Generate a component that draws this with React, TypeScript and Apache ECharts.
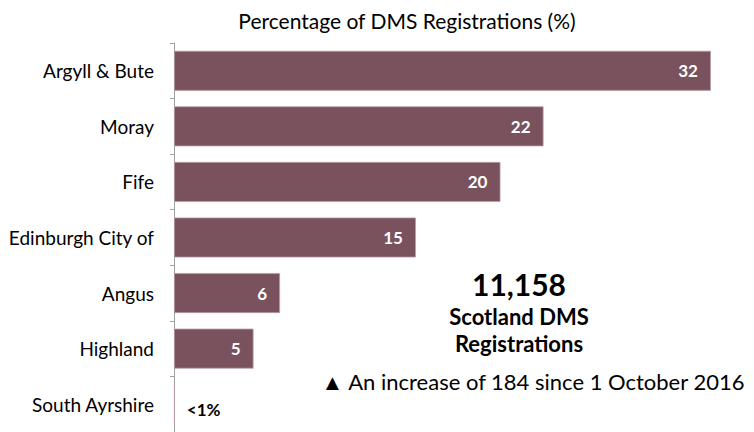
import React, { useEffect, useRef } from "react";
import * as echarts from "echarts";

const categories = [
  "Argyll & Bute",
  "Moray",
  "Fife",
  "Edinburgh City of",
  "Angus",
  "Highland",
  "South Ayrshire",
];
const percentages = [32.4, 22.3, 19.7, 14.6, 6.4, 4.8, 0.05];
const titleText = "Percentage of DMS Registrations (%)";
const totalRegistrations = 11158;
const totalLabelLines = ["Scotland DMS", "Registrations"];
const increase = 184;
const sinceDate = "1 October 2016";

const FONT = "Lato, 'Open Sans', sans-serif";
const BAR = "#7a525e";

export default function App() {
  const ref = useRef<HTMLDivElement>(null);
  useEffect(() => {
    if (!ref.current) return;
    const chart = echarts.init(ref.current, null, { renderer: "svg" });
    const data = percentages.map((v) =>
      v < 1
        ? {
            value: v,
            label: {
              position: "right",
              color: "#000",
              distance: 12,
              offset: [0, 5],
              formatter: "<1%",
            },
          }
        : { value: v }
    );
    const lineY = [316, 343];
    chart.setOption({
      animation: false,
      backgroundColor: "#fff",
      textStyle: { fontFamily: FONT },
      title: {
        text: titleText,
        left: 402,
        top: 5,
        textAlign: "center",
        textStyle: { fontFamily: FONT, fontSize: 21, fontWeight: "normal", color: "#000" },
      },
      grid: { left: 174, top: 43, right: 0, height: 392, containLabel: false },
      xAxis: { type: "value", min: 0, max: 35, show: false },
      yAxis: {
        type: "category",
        data: categories,
        inverse: true,
        axisLine: { show: true, lineStyle: { color: "#a0a0a0", width: 1 } },
        axisTick: { show: true, length: 4, lineStyle: { color: "#a0a0a0" } },
        axisLabel: { fontFamily: FONT, fontSize: 19, color: "#000", margin: 20 },
        splitLine: { show: false },
      },
      series: [
        {
          type: "bar",
          data,
          barWidth: 40,
          itemStyle: { color: BAR, borderColor: "#b9a0a8", borderWidth: 0.8 },
          label: {
            show: true,
            position: "insideRight",
            distance: 13,
            color: "#fff",
            fontFamily: FONT,
            fontSize: 17,
            fontWeight: "bold",
            formatter: (p: any) => String(Math.round(p.value)),
          },
        },
      ],
      graphic: [
        {
          type: "text",
          x: 519,
          y: 284,
          style: {
            text: totalRegistrations.toLocaleString("en-GB"),
            fontFamily: FONT,
            fontSize: 30,
            fontWeight: "bold",
            fill: "#000",
            textAlign: "center",
            textVerticalAlign: "middle",
          },
        },
        ...totalLabelLines.map((t, i) => ({
          type: "text",
          x: 519,
          y: lineY[i],
          style: {
            text: t,
            fontFamily: FONT,
            fontSize: 22,
            fontWeight: "bold",
            fill: "#000",
            textAlign: "center",
            textVerticalAlign: "middle",
          },
        })),
        {
          type: "text",
          x: 533,
          y: 381,
          style: {
            text: `▲ An increase of ${increase} since ${sinceDate}`,
            fontFamily: FONT,
            fontSize: 22,
            fill: "#000",
            textAlign: "center",
            textVerticalAlign: "middle",
          },
        },
      ],
    });
    return () => chart.dispose();
  }, []);
  return (
    <div
      ref={ref}
      style={{ position: "fixed", left: 0, top: 0, width: 754, height: 432 }}
    />
  );
}
